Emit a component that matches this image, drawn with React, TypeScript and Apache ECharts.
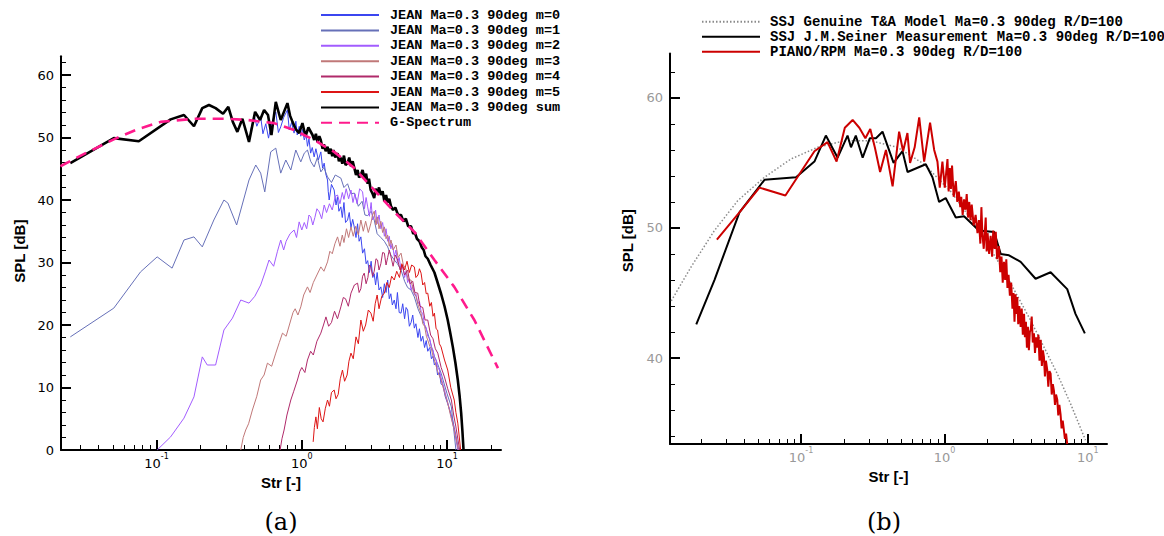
import React, { useEffect, useRef } from "react";
import * as echarts from "echarts";

// ---------- Left panel (a) ----------
const leftNames = [
  "JEAN Ma=0.3 90deg m=0",
  "JEAN Ma=0.3 90deg m=1",
  "JEAN Ma=0.3 90deg m=2",
  "JEAN Ma=0.3 90deg m=3",
  "JEAN Ma=0.3 90deg m=4",
  "JEAN Ma=0.3 90deg m=5",
  "JEAN Ma=0.3 90deg sum",
  "G-Spectrum",
];

const m0: number[][] = [
  [0.445, 51.2], [0.47, 53.5], [0.49, 51.8], [0.521, 53.3], [0.54, 50.6], [0.565, 52.2], [0.59, 49.9],
  [0.611, 51.6], [0.635, 53.0], [0.662, 54.1], [0.69, 50.8], [0.716, 51.7], [0.75, 53.2], [0.796, 54.4],
  [0.82, 51.2], [0.85, 52.4], [0.885, 50.7], [0.91, 52.6], [0.93, 50.4], [0.96, 51.8], [0.984, 50.2],
  [1.01, 51.3], [1.04, 49.6], [1.07, 50.5], [1.094, 48.6], [1.12, 49.8], [1.15, 47.5], [1.18, 48.4],
  [1.216, 46.9], [1.25, 48.2], [1.3, 46.4], [1.352, 47.7], [1.39, 45.1], [1.426, 45.9], [1.46, 44.2],
  [1.503, 43.2], [1.52, 41.4], [1.543, 40.0], [1.6, 42.5], [1.67, 41.6], [1.72, 39.2], [1.76, 40.5],
  [1.8, 38.2], [1.857, 38.9], [1.9, 37.2], [1.95, 39.6], [2.0, 36.4], [2.065, 36.8], [2.12, 38.0],
  [2.18, 35.6], [2.24, 36.9], [2.295, 35.7], [2.36, 34.0], [2.42, 36.2], [2.48, 33.4], [2.55, 34.1],
  [2.62, 31.5], [2.7, 32.2], [2.77, 29.8], [2.84, 30.3], [2.92, 28.4], [3.0, 30.2], [3.08, 27.6],
  [3.15, 28.2], [3.22, 26.4], [3.3, 28.4], [3.4, 25.6], [3.5, 26.1], [3.6, 24.4], [3.7, 26.6],
  [3.8, 25.2], [3.9, 27.2], [4.0, 24.2], [4.1, 25.0], [4.2, 23.2], [4.33, 24.0], [4.45, 22.6],
  [4.55, 25.2], [4.68, 22.0], [4.82, 21.9], [4.95, 23.4], [5.1, 21.0], [5.22, 22.8], [5.35, 22.4],
  [5.5, 19.8], [5.65, 20.4], [5.8, 21.6], [5.95, 19.5], [6.1, 20.2], [6.3, 18.0], [6.45, 19.4],
  [6.62, 17.4], [6.8, 18.2], [7.0, 16.4], [7.18, 17.5], [7.36, 15.8], [7.6, 16.4], [7.8, 14.6],
  [8.0, 15.0], [8.18, 13.6], [8.4, 14.0], [8.6, 12.0], [8.85, 12.4], [9.09, 10.6], [9.4, 10.2],
  [9.7, 8.6], [10.1, 7.4], [10.5, 6.2], [10.9, 4.8], [11.2, 3.6], [11.6, 1.8], [11.97, 0],
];

const m1: number[][] = [
  [0.0255, 18.1], [0.0508, 22.7], [0.0776, 28.5], [0.101, 30.9], [0.128, 29.1], [0.1545, 33.6],
  [0.181, 34.1], [0.2065, 32.5], [0.248, 36.8], [0.291, 40.0], [0.31, 39.5], [0.356, 36.0], [0.433, 43.2],
  [0.482, 45.6], [0.521, 44.3], [0.556, 41.3], [0.611, 47.7], [0.662, 48.3], [0.716, 44.3], [0.776, 46.4],
  [0.84, 44.8], [0.909, 48.0], [0.984, 46.1], [1.04, 47.5], [1.094, 48.0], [1.15, 46.2], [1.216, 45.3],
  [1.28, 46.8], [1.352, 44.5], [1.42, 45.2], [1.503, 43.7], [1.6, 42.8], [1.7, 44.0], [1.857, 43.5],
  [1.95, 42.0], [2.065, 42.6], [2.18, 41.0], [2.3, 41.1], [2.45, 39.0], [2.6, 39.8], [2.72, 37.6],
  [2.84, 37.5], [3.0, 38.2], [3.15, 36.8], [3.3, 34.6], [3.5, 34.0], [3.7, 33.4], [3.9, 32.5],
  [4.1, 31.2], [4.3, 30.5], [4.55, 29.8], [4.82, 28.8], [5.1, 27.0], [5.35, 26.0], [5.65, 25.6],
  [5.95, 24.5], [6.3, 22.6], [6.6, 21.5], [7.0, 20.0], [7.36, 18.7], [7.8, 16.6], [8.18, 15.0],
  [8.6, 13.8], [9.09, 12.3], [10.0, 9.0], [10.7, 6.9], [11.5, 0],
];

const m2: number[][] = [
  [0.101, 0], [0.125, 2.1], [0.1545, 5.1], [0.181, 8.5], [0.2065, 14.9], [0.2235, 13.6], [0.255, 13.6],
  [0.291, 19.2], [0.333, 21.1], [0.38, 24.0], [0.433, 23.5], [0.475, 24.6], [0.521, 26.4], [0.56, 28.5],
  [0.595, 30.4], [0.64, 29.4], [0.68, 31.8], [0.716, 33.6], [0.75, 32.0], [0.78, 33.4], [0.83, 34.6],
  [0.885, 35.2], [0.92, 34.0], [0.959, 36.5], [1.0, 35.2], [1.04, 36.4], [1.08, 35.4], [1.12, 37.6],
  [1.153, 37.3], [1.19, 36.0], [1.23, 37.2], [1.27, 38.6], [1.318, 38.1], [1.37, 37.0], [1.426, 39.2],
  [1.48, 38.0], [1.55, 39.4], [1.62, 38.4], [1.7, 40.6], [1.762, 40.8], [1.83, 39.4], [1.9, 41.2],
  [1.95, 40.1], [2.02, 41.8], [2.1, 40.2], [2.18, 41.6], [2.25, 39.6], [2.32, 41.0], [2.4, 39.4],
  [2.5, 41.8], [2.62, 41.3], [2.7, 38.6], [2.77, 40.4], [2.84, 38.9], [2.92, 37.4], [3.0, 39.6],
  [3.07, 36.8], [3.15, 37.3], [3.22, 38.4], [3.3, 36.2], [3.4, 37.6], [3.5, 35.4], [3.6, 36.4],
  [3.7, 34.2], [3.8, 35.4], [3.9, 33.4], [4.0, 34.2], [4.1, 32.2], [4.2, 33.0], [4.33, 31.0],
  [4.45, 32.0], [4.55, 30.0], [4.68, 30.8], [4.82, 28.8], [4.95, 29.6], [5.1, 27.6], [5.22, 28.6],
  [5.35, 26.8], [5.5, 27.4], [5.65, 25.6], [5.8, 26.4], [5.95, 24.8], [6.1, 25.0], [6.3, 23.4],
  [6.45, 23.8], [6.62, 22.2], [6.8, 21.8], [7.0, 20.0], [7.18, 19.6], [7.36, 18.2], [7.6, 17.8],
  [7.8, 16.4], [8.0, 16.0], [8.18, 14.8], [8.4, 14.4], [8.6, 13.2], [8.85, 12.8], [9.09, 11.6],
  [9.5, 10.0], [10.1, 7.6], [10.6, 5.6], [11.2, 3.2], [11.85, 0],
];

const m3: number[][] = [
  [0.38, 0], [0.395, 2.0], [0.411, 3.2], [0.43, 4.2], [0.457, 6.4], [0.49, 8.6], [0.521, 11.2],
  [0.55, 12.0], [0.58, 13.9], [0.62, 13.4], [0.662, 15.5], [0.7, 17.2], [0.736, 18.7], [0.78, 18.2],
  [0.84, 20.8], [0.87, 22.0], [0.9, 22.6], [0.94, 21.6], [0.984, 22.9], [1.03, 24.8], [1.094, 26.1],
  [1.14, 25.2], [1.2, 26.8], [1.27, 28.0], [1.352, 29.3], [1.42, 28.6], [1.503, 30.1], [1.56, 31.8],
  [1.62, 31.4], [1.69, 33.0], [1.762, 34.1], [1.83, 32.6], [1.9, 34.4], [1.95, 33.2], [2.03, 35.4],
  [2.1, 34.0], [2.18, 35.7], [2.26, 34.2], [2.35, 35.8], [2.45, 34.4], [2.55, 36.8], [2.65, 35.0],
  [2.75, 36.6], [2.87, 34.8], [2.99, 36.3], [3.07, 37.6], [3.15, 38.2], [3.24, 36.0], [3.32, 37.3],
  [3.4, 35.4], [3.5, 36.6], [3.6, 34.8], [3.7, 35.7], [3.8, 33.8], [3.9, 34.4], [4.0, 32.6],
  [4.11, 33.6], [4.25, 32.0], [4.45, 32.8], [4.6, 30.8], [4.82, 31.5], [5.0, 29.6], [5.2, 29.0],
  [5.4, 27.2], [5.65, 27.2], [5.85, 25.4], [6.1, 24.6], [6.35, 23.0], [6.62, 21.9], [6.8, 20.2],
  [7.0, 19.8], [7.2, 18.2], [7.36, 17.6], [7.6, 16.6], [7.8, 16.2], [8.0, 15.0], [8.18, 14.4],
  [8.6, 12.6], [9.09, 11.2], [9.6, 9.2], [10.1, 7.5], [10.6, 5.4], [11.2, 3.2], [11.97, 0],
];

const m4: number[][] = [
  [0.709, 0], [0.73, 1.8], [0.755, 3.2], [0.79, 5.6], [0.84, 8.0], [0.88, 9.4], [0.933, 11.2],
  [0.97, 12.6], [1.0, 13.2], [1.05, 12.4], [1.094, 14.4], [1.15, 15.8], [1.2, 15.2], [1.27, 17.4],
  [1.352, 18.7], [1.41, 20.0], [1.466, 21.3], [1.53, 19.8], [1.6, 20.4], [1.68, 22.2], [1.76, 21.0],
  [1.857, 22.9], [1.93, 24.4], [2.0, 24.2], [2.09, 23.0], [2.18, 25.1], [2.3, 26.4], [2.42, 26.7],
  [2.48, 25.2], [2.55, 25.8], [2.62, 27.8], [2.69, 28.3], [2.77, 26.6], [2.85, 27.6], [2.92, 29.6],
  [2.99, 29.3], [3.07, 27.8], [3.15, 28.6], [3.24, 30.6], [3.32, 30.4], [3.4, 28.8], [3.5, 29.8],
  [3.6, 31.6], [3.7, 31.5], [3.8, 29.6], [3.9, 30.8], [4.0, 32.0], [4.11, 30.9], [4.25, 29.4],
  [4.4, 31.2], [4.57, 30.4], [4.75, 28.8], [4.9, 29.6], [5.1, 28.0], [5.35, 28.8], [5.55, 26.6],
  [5.8, 27.0], [6.0, 25.2], [6.28, 25.1], [6.5, 23.0], [6.8, 22.8], [7.05, 20.8], [7.36, 20.8],
  [7.7, 18.4], [8.0, 17.8], [8.3, 16.2], [8.63, 15.5], [9.1, 13.2], [9.59, 11.7], [10.1, 9.8],
  [10.7, 8.0], [11.1, 5.6], [11.5, 3.7], [12.2, 0],
];

const m5: number[][] = [
  [1.197, 1.3], [1.22, 3.6], [1.25, 5.3], [1.28, 3.4], [1.32, 6.8], [1.36, 5.0], [1.4, 4.5], [1.45, 6.6],
  [1.503, 8.0], [1.55, 7.0], [1.6, 9.2], [1.67, 9.6], [1.72, 8.2], [1.78, 8.9], [1.84, 11.4],
  [1.905, 12.8], [1.97, 11.0], [2.05, 12.0], [2.11, 14.2], [2.18, 15.5], [2.26, 14.6], [2.36, 18.1],
  [2.45, 17.0], [2.55, 20.8], [2.65, 19.0], [2.75, 20.0], [2.87, 22.4], [2.99, 21.9], [3.1, 20.6],
  [3.2, 23.4], [3.3, 24.8], [3.4, 22.6], [3.55, 24.6], [3.7, 25.1], [3.85, 26.8], [4.0, 26.0],
  [4.15, 27.8], [4.33, 27.2], [4.5, 28.6], [4.7, 27.6], [4.88, 29.8], [5.08, 28.8], [5.3, 30.2],
  [5.5, 28.4], [5.7, 29.6], [5.95, 29.3], [6.1, 27.6], [6.3, 28.0], [6.45, 29.0], [6.62, 28.3],
  [6.8, 26.4], [7.0, 26.8], [7.18, 25.0], [7.36, 25.1], [7.6, 23.0], [7.8, 23.6], [8.0, 21.4],
  [8.18, 21.9], [8.4, 19.4], [8.6, 19.2], [8.85, 17.0], [9.09, 16.5], [9.6, 14.4], [10.1, 12.8],
  [10.6, 10.0], [11.2, 8.0], [11.5, 6.0], [11.85, 4.3], [12.4, 0],
];

const sumSpl: number[][] = [
  [0.0255, 45.9], [0.0508, 49.9], [0.0755, 49.4], [0.125, 52.9], [0.1545, 53.6], [0.181, 51.8],
  [0.2065, 54.7], [0.2296, 55.2], [0.255, 54.7], [0.287, 53.8], [0.312, 54.9], [0.335, 52.5],
  [0.36, 50.9], [0.39, 53.0], [0.433, 49.3], [0.477, 54.1], [0.516, 52.8], [0.55, 54.4], [0.585, 53.6],
  [0.618, 50.4], [0.662, 55.7], [0.716, 52.8], [0.796, 55.5], [0.83, 53.5], [0.863, 52.5], [0.91, 51.3],
  [0.959, 50.7], [1.01, 52.3], [1.06, 50.2], [1.11, 51.6], [1.185, 50.4], [1.216, 49.6], [1.25, 50.6],
  [1.28, 49.3], [1.32, 50.2], [1.35, 49.6], [1.39, 48.2], [1.42, 48.9], [1.46, 47.8], [1.503, 48.5],
  [1.54, 47.4], [1.58, 48.2], [1.62, 47.0], [1.65, 48.0], [1.7, 46.8], [1.762, 47.5], [1.8, 46.2],
  [1.85, 46.8], [1.9, 45.8], [1.95, 47.1], [2.0, 45.6], [2.065, 45.9], [2.12, 46.8], [2.18, 45.4],
  [2.24, 46.2], [2.295, 45.2], [2.36, 44.0], [2.42, 44.8], [2.48, 43.6], [2.55, 44.0], [2.62, 44.8],
  [2.7, 43.4], [2.77, 44.2], [2.84, 42.6], [2.9, 43.4], [2.98, 41.6], [3.07, 41.0], [3.15, 40.3],
  [3.22, 41.8], [3.3, 41.0], [3.4, 42.0], [3.5, 40.8], [3.6, 41.4], [3.7, 39.8], [3.8, 40.8],
  [3.9, 39.6], [4.0, 40.2], [4.11, 39.0], [4.25, 38.4], [4.4, 38.8], [4.6, 37.6], [4.82, 37.6],
  [5.0, 36.6], [5.2, 37.0], [5.4, 35.8], [5.64, 35.8], [5.85, 34.6], [6.0, 34.8], [6.2, 33.8],
  [6.45, 33.4], [6.7, 32.4], [6.9, 32.0], [7.1, 31.0], [7.36, 30.6], [7.7, 29.6], [8.18, 28.4],
  [8.6, 26.8], [9.09, 25.0], [9.6, 23.0], [10.1, 20.8], [10.5, 18.8], [10.95, 16.5], [11.4, 14.0],
  [11.85, 11.2], [12.2, 8.6], [12.5, 5.9], [12.75, 3.0], [12.97, 0.1],
];

const gSpectrum: number[][] = [
  [0.0218, 45.4], [0.0332, 47.6], [0.0508, 49.7], [0.0736, 51.3], [0.1066, 52.5], [0.181, 53.0],
  [0.307, 53.0], [0.422, 52.8], [0.644, 52.3], [0.885, 51.2], [1.216, 49.6], [1.67, 47.7], [2.3, 45.1],
  [3.15, 41.6], [4.33, 38.1], [5.95, 34.9], [8.18, 30.4], [11.2, 26.1], [15.4, 20.8], [22.4, 13.1],
];

// ---------- Right panel (b) ----------
const rightNames = [
  "SSJ Genuine T&A Model Ma=0.3 90deg R/D=100",
  "SSJ J.M.Seiner Measurement Ma=0.3 90deg R/D=100",
  "PIANO/RPM Ma=0.3 90deg R/D=100",
];

const taModel: number[][] = [
  [0.01245, 44.4], [0.0171, 47.0], [0.0249, 49.8], [0.0362, 52.1], [0.0556, 53.9], [0.0851, 55.3],
  [0.1306, 56.2], [0.2, 56.7], [0.307, 56.7], [0.471, 56.2], [0.722, 54.9], [1.107, 52.8], [1.7, 50.0],
  [2.6, 46.7], [3.99, 42.9], [6.12, 38.8], [7.57, 36.5], [9.63, 33.7],
];

const seiner: number[][] = [
  [0.0186, 42.6], [0.0249, 46.0], [0.0372, 51.2], [0.0556, 53.7], [0.0923, 53.9], [0.124, 55.1],
  [0.149, 57.1], [0.18, 55.4], [0.211, 57.1], [0.223, 56.2], [0.241, 57.1], [0.269, 55.4], [0.302, 56.9],
  [0.333, 56.9], [0.37, 57.4], [0.442, 55.0], [0.51, 55.9], [0.553, 54.3], [0.741, 54.9], [0.825, 53.9],
  [0.918, 52.0], [1.02, 52.3], [1.2, 50.8], [1.37, 50.9], [1.74, 49.8], [2.22, 49.7], [2.47, 48.0],
  [2.82, 47.9], [3.4, 47.4], [4.32, 46.1], [5.5, 46.6], [7.18, 45.3], [8.2, 43.4], [9.53, 41.9],
];

const pianoRpm: number[][] = [
  [0.0259, 49.1], [0.0372, 51.2], [0.0513, 53.1], [0.0778, 52.5], [0.124, 55.9], [0.153, 56.6],
  [0.177, 55.1], [0.202, 57.7], [0.229, 58.3], [0.255, 57.7], [0.281, 56.9], [0.304, 57.6], [0.327, 56.2],
  [0.356, 54.3], [0.391, 56.0], [0.435, 53.2], [0.483, 57.4], [0.515, 55.9], [0.552, 57.3], [0.576, 55.0],
  [0.62, 56.2], [0.667, 58.5], [0.722, 55.1], [0.794, 58.1], [0.848, 56.0], [0.894, 55.1], [0.928, 53.1],
  [0.968, 55.1], [1.005, 53.1], [1.05, 55.3], [1.07, 52.8], [1.09, 54.6], [1.11, 53.0], [1.13, 54.8],
  [1.16, 52.4], [1.2, 53.6], [1.23, 52.0], [1.26, 52.8], [1.29, 51.6], [1.31, 52.4], [1.34, 51.0],
  [1.37, 52.2], [1.4, 51.4], [1.43, 52.6], [1.46, 50.8], [1.49, 52.0], [1.52, 50.6], [1.55, 51.8],
  [1.6, 50.2], [1.65, 51.0], [1.7, 49.6], [1.74, 50.6], [1.78, 48.8], [1.81, 51.6], [1.84, 49.5],
  [1.88, 48.4], [1.94, 50.8], [1.97, 48.2], [2.0, 49.6], [2.05, 48.0], [2.1, 49.4], [2.15, 47.8],
  [2.19, 49.8], [2.24, 48.4], [2.28, 49.7], [2.33, 47.6], [2.4, 48.6], [2.45, 46.6], [2.5, 47.8],
  [2.55, 45.8], [2.6, 47.4], [2.65, 46.0], [2.7, 47.6], [2.75, 45.4], [2.8, 46.4], [2.86, 44.8],
  [2.92, 45.8], [2.98, 43.8], [3.03, 45.0], [3.08, 42.8], [3.13, 44.9], [3.18, 43.4], [3.22, 44.7],
  [3.27, 42.6], [3.33, 44.0], [3.4, 42.4], [3.46, 43.8], [3.52, 41.8], [3.59, 43.4], [3.64, 41.6],
  [3.7, 42.8], [3.76, 40.8], [3.82, 42.4], [3.88, 40.6], [3.94, 42.0], [4.0, 42.2], [4.06, 43.2],
  [4.13, 41.2], [4.21, 41.9], [4.28, 40.4], [4.36, 41.6], [4.44, 40.8], [4.52, 41.8], [4.6, 39.8],
  [4.69, 41.4], [4.78, 39.4], [4.86, 40.6], [4.94, 40.1], [5.02, 38.6], [5.1, 39.8], [5.21, 39.1],
  [5.3, 37.8], [5.4, 39.0], [5.5, 38.8], [5.6, 37.2], [5.7, 38.0], [5.8, 37.5], [5.9, 36.4],
  [6.0, 37.2], [6.12, 36.8], [6.22, 35.6], [6.33, 36.4], [6.45, 35.7], [6.56, 34.6], [6.68, 35.2],
  [6.8, 34.5], [6.92, 33.8], [7.05, 34.2], [7.18, 33.4],
];

// ---------- Axis tick positions ----------
const leftXMajor = [0.1, 1, 10];
const leftXMinor = [0.03, 0.04, 0.05, 0.06, 0.07, 0.08, 0.09, 0.2, 0.3, 0.4, 0.5, 0.6, 0.7, 0.8, 0.9, 2, 3, 4, 5, 6, 7, 8, 9, 20];
const leftYMajor = [0, 10, 20, 30, 40, 50, 60];
const leftYMinor = [2, 4, 6, 8, 12, 14, 16, 18, 22, 24, 26, 28, 32, 34, 36, 38, 42, 44, 46, 48, 52, 54, 56, 58, 62];
const rightXMajor = [0.1, 1, 10];
const rightXMinor = [0.02, 0.03, 0.04, 0.05, 0.06, 0.07, 0.08, 0.09, 0.2, 0.3, 0.4, 0.5, 0.6, 0.7, 0.8, 0.9, 2, 3, 4, 5, 6, 7, 8, 9];
const rightYMajor = [40, 50, 60];
const rightYMinor = [34, 36, 38, 42, 44, 46, 48, 52, 54, 56, 58, 62];

const leftColors = ["#3b46f0", "#6670b8", "#a25cff", "#c07878", "#b02a6a", "#dd1515", "#000000", "#ff1a8c"];
const rightColors = ["#8a8a8a", "#000000", "#cc0000"];

const LEFT_X = [0.022, 23.5];
const LEFT_Y = [0, 63];
const RIGHT_X = [0.0122, 13.6];
const RIGHT_Y = [33.4, 63.4];

function expLabel(v: number) {
  const e = Math.round(Math.log10(v));
  return `{b|10}{sup|${e}}`;
}

function buildOption() {
  const tickFont = "DejaVu Sans";
  const mkRich = (color: string) => ({
    b: { fontSize: 13, fontFamily: tickFont, color, lineHeight: 18, verticalAlign: "bottom" },
    sup: { fontSize: 8, fontFamily: tickFont, color, lineHeight: 18, verticalAlign: "top" },
  });

  const majorX = (grid: number, range: number[], major: number[], labelColor: string, nameGap: number) => ({
    type: "log",
    gridIndex: grid,
    position: "bottom",
    min: range[0],
    max: range[1],
    name: "Str [-]",
    nameLocation: "middle",
    nameGap,
    nameTextStyle: { fontFamily: "Liberation Sans", fontWeight: "bold", fontSize: 15, color: "#000" },
    axisLine: { show: true, onZero: false, lineStyle: { color: "#000", width: 2 } },
    axisTick: { show: true, inside: true, length: 10, customValues: major, lineStyle: { color: "#000", width: 2 } },
    axisLabel: { show: true, margin: 2, customValues: major, formatter: expLabel, rich: mkRich(labelColor) },
    splitLine: { show: false },
    minorTick: { show: false },
  });
  const minorX = (grid: number, range: number[], minor: number[]) => ({
    type: "log",
    gridIndex: grid,
    position: "bottom",
    min: range[0],
    max: range[1],
    axisLine: { show: false, onZero: false },
    axisTick: { show: true, inside: true, length: 5, customValues: minor, lineStyle: { color: "#000", width: 1 } },
    axisLabel: { show: false },
    splitLine: { show: false },
  });
  const majorY = (
    grid: number,
    range: number[],
    major: number[],
    labelColor: string,
    nameGap: number,
    namePad: number[]
  ) => ({
    type: "value",
    gridIndex: grid,
    position: "left",
    min: range[0],
    max: range[1],
    name: "SPL [dB]",
    nameLocation: "middle",
    nameRotate: 90,
    nameGap,
    nameTextStyle: {
      fontFamily: "Liberation Sans",
      fontWeight: "bold",
      fontSize: 15,
      color: "#000",
      padding: namePad,
    },
    axisLine: { show: true, onZero: false, lineStyle: { color: "#000", width: 2 } },
    axisTick: { show: true, inside: true, length: 10, customValues: major, lineStyle: { color: "#000", width: 2 } },
    axisLabel: { show: true, margin: 7, customValues: major, color: labelColor, fontSize: 13, fontFamily: tickFont },
    splitLine: { show: false },
  });
  const minorY = (grid: number, range: number[], minor: number[]) => ({
    type: "value",
    gridIndex: grid,
    position: "left",
    min: range[0],
    max: range[1],
    axisLine: { show: false, onZero: false },
    axisTick: { show: true, inside: true, length: 5, customValues: minor, lineStyle: { color: "#000", width: 1 } },
    axisLabel: { show: false },
    splitLine: { show: false },
  });

  const leftData = [m0, m1, m2, m3, m4, m5, sumSpl, gSpectrum];
  const rightData = [taModel, seiner, pianoRpm];

  const series: any[] = [];
  leftData.forEach((d, i) => {
    const isSum = i === 6;
    const isG = i === 7;
    series.push({
      type: "line",
      name: leftNames[i],
      xAxisIndex: 0,
      yAxisIndex: 0,
      data: d,
      symbol: "none",
      showSymbol: false,
      z: 2 + i,
      itemStyle: { color: leftColors[i] },
      lineStyle: {
        color: leftColors[i],
        width: isSum ? 2.6 : isG ? 2.6 : 1,
        type: isG ? [11, 7] : "solid",
      },
    });
  });
  rightData.forEach((d, i) => {
    series.push({
      type: "line",
      name: rightNames[i],
      xAxisIndex: 2,
      yAxisIndex: 2,
      data: d,
      symbol: "none",
      showSymbol: false,
      z: 2 + i,
      itemStyle: { color: rightColors[i] },
      lineStyle: {
        color: rightColors[i],
        width: i === 0 ? 1.5 : 2,
        type: i === 0 ? [1.5, 2] : "solid",
      },
    });
  });

  const legendBase = {
    orient: "vertical",
    padding: 0,
    itemWidth: 58,
    itemHeight: 10,
    itemStyle: { opacity: 0, borderWidth: 0 },
  };

  return {
    animation: false,
    backgroundColor: "#ffffff",
    grid: [
      { left: 61, top: 56.25, width: 440, height: 393.75, containLabel: false },
      { left: 670, top: 53.6, width: 437, height: 390.4, containLabel: false },
    ],
    xAxis: [
      majorX(0, LEFT_X, leftXMajor, "#000", 19),
      minorX(0, LEFT_X, leftXMinor),
      majorX(1, RIGHT_X, rightXMajor, "#999", 17),
      minorX(1, RIGHT_X, rightXMinor),
    ],
    yAxis: [
      majorY(0, LEFT_Y, leftYMajor, "#000", 34, [0, 0, 0, 4]),
      minorY(0, LEFT_Y, leftYMinor),
      majorY(1, RIGHT_Y, rightYMajor, "#999", 35, [0, 0, 0, 16]),
      minorY(1, RIGHT_Y, rightYMinor),
    ],
    legend: [
      {
        ...legendBase,
        left: 320,
        top: 7.5,
        itemGap: 0.4,
        data: leftNames,
        textStyle: {
          fontFamily: "Liberation Mono",
          fontWeight: "bold",
          fontSize: 13.5,
          lineHeight: 15,
          color: "#000",
          padding: [0, 0, 0, 6],
        },
      },
      {
        ...legendBase,
        left: 701,
        top: 14.2,
        itemGap: 0,
        data: rightNames,
        textStyle: {
          fontFamily: "Liberation Mono",
          fontWeight: "bold",
          fontSize: 14,
          lineHeight: 15,
          color: "#000",
          padding: [0, 0, 0, 5],
        },
      },
    ],
    graphic: [
      {
        type: "text",
        x: 281,
        y: 522,
        style: { text: "(a)", font: "24px 'DejaVu Serif'", fill: "#000", align: "center", verticalAlign: "middle" },
      },
      {
        type: "text",
        x: 884,
        y: 522,
        style: { text: "(b)", font: "24px 'DejaVu Serif'", fill: "#000", align: "center", verticalAlign: "middle" },
      },
    ],
    series,
  };
}

export default function App() {
  const ref = useRef<HTMLDivElement>(null);
  useEffect(() => {
    if (!ref.current) return;
    const chart = echarts.init(ref.current, undefined, { renderer: "svg" });
    chart.setOption(buildOption() as any);
    return () => {
      chart.dispose();
    };
  }, []);
  return (
    <div
      ref={ref}
      style={{ position: "fixed", left: 0, top: 0, width: 1164, height: 536, background: "#fff" }}
    />
  );
}
